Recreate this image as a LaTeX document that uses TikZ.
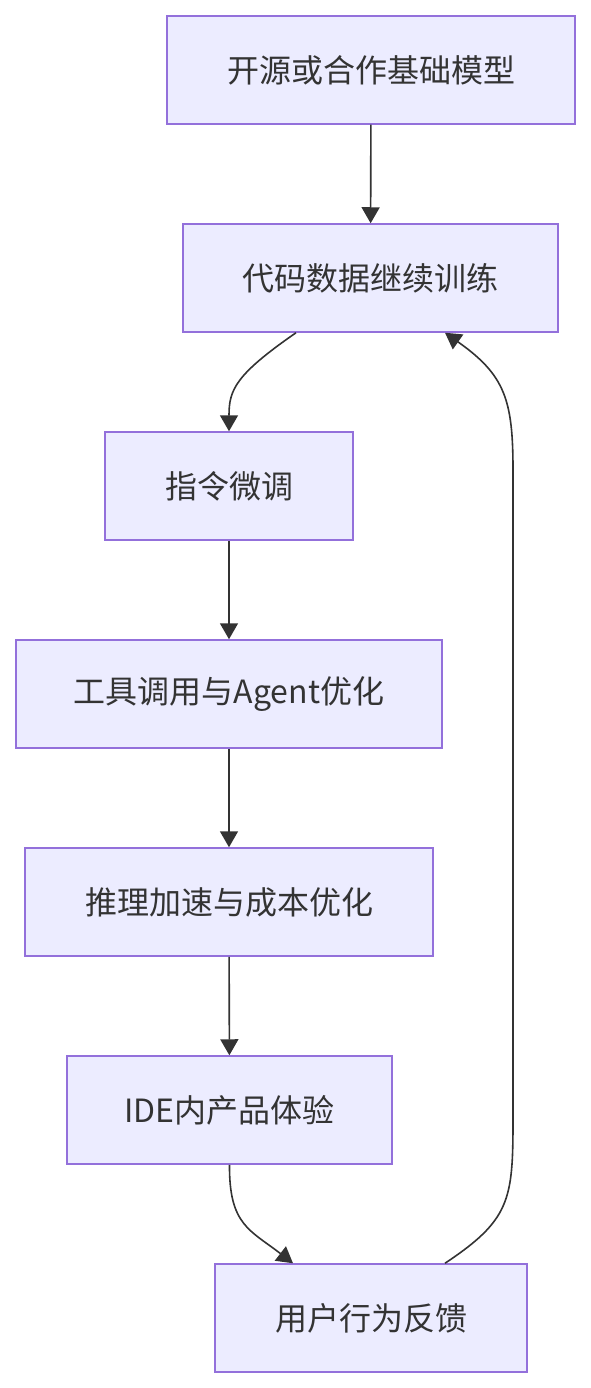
\documentclass[tikz,border=0pt]{standalone}
\usepackage{fontspec}
\setmainfont{Noto Sans CJK SC}
\usetikzlibrary{positioning, arrows.meta}
\definecolor{boxfill}{HTML}{ECECFF}
\definecolor{boxline}{HTML}{9370DB}
\definecolor{inkgray}{HTML}{333333}

\begin{document}
\begin{tikzpicture}[x=1pt, y=-1pt,
  every node/.style={font=\fontsize{32}{38}\selectfont, text=inkgray},
  stage/.style={draw=boxline, fill=boxfill, line width=1.5pt, minimum height=108pt, inner sep=0pt},
  flow/.style={draw=inkgray, line width=1.6pt, -{Triangle[length=16pt,width=18pt]}}]

\useasboundingbox (0,0) rectangle (590,1388);

% ---- stages ----
\node[stage, minimum width=408pt] (base) at (371,70) {开源或合作基础模型};
\node[stage, minimum width=375pt] (train) at (370.5,278) {代码数据继续训练};
\node[stage, minimum width=248pt] (tune) at (229,486) {指令微调};
\node[stage, minimum width=426pt] (agent) at (229,694) {工具调用与Agent优化};
\node[stage, minimum width=408pt] (infer) at (229,902) {推理加速与成本优化};
\node[stage, minimum width=325pt] (ide) at (229.5,1110) {IDE内产品体验};
\node[stage, minimum width=312pt] (feedback) at (371,1318) {用户行为反馈};

% ---- links ----
\foreach \a/\b in {base/train, tune/agent, agent/infer, infer/ide}
  \draw[flow] (\a) -- (\b);

\draw[flow] ([xshift=-74.5pt]train.south) .. controls (235,375) and (229,390) .. (tune.north);
\draw[flow] (ide.south) .. controls (229,1225) and (250,1230) .. ([xshift=-78pt]feedback.north);

% ---- feedback loop ----
\draw[flow] ([xshift=74pt]feedback.north) .. controls (510,1220) and (513,1200) .. (513,1120)
  -- (513,470) .. controls (513,400) and (505,375) .. ([xshift=74.5pt]train.south);
\end{tikzpicture}
\end{document}
